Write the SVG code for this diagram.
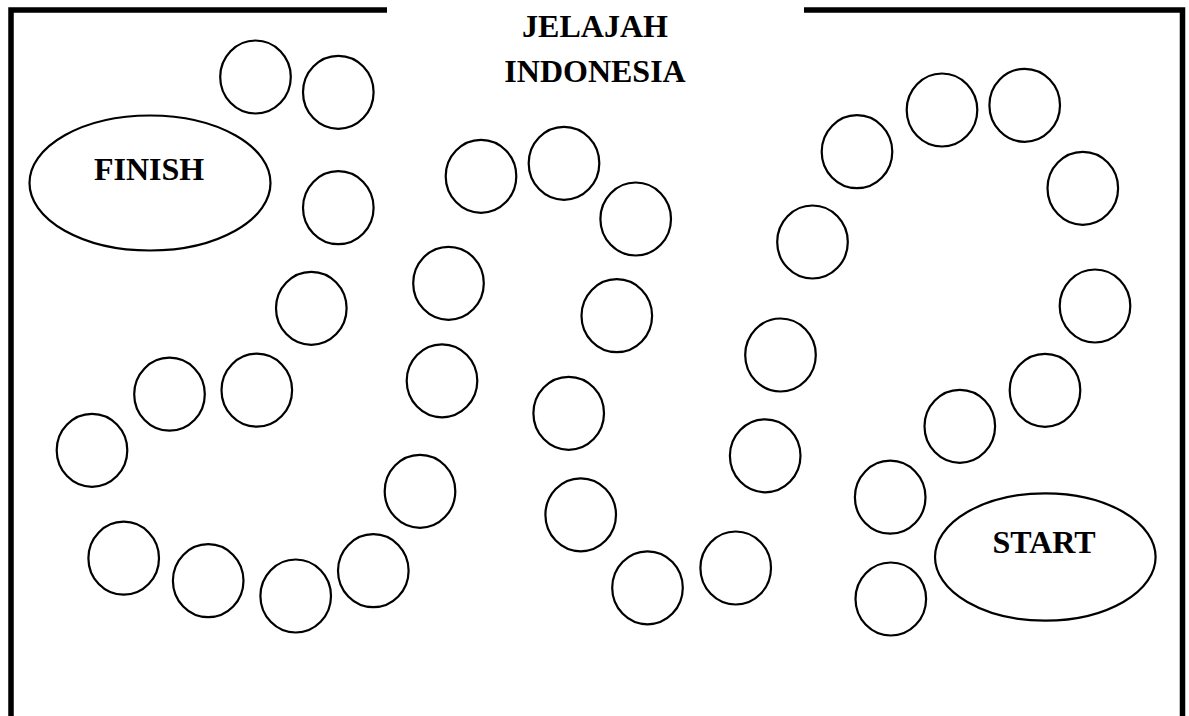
<svg xmlns="http://www.w3.org/2000/svg" width="1189" height="716" viewBox="0 0 1189 716">
  <style>
    .frame { fill: none; stroke: #000; stroke-width: 5.5; stroke-linejoin: miter; }
    .step { fill: #fff; stroke: #000; stroke-width: 2.2; }
    .goal { fill: #fff; stroke: #000; stroke-width: 2.2; }
    .label { font-family: "Liberation Serif", "Times New Roman", serif; font-weight: bold; font-size: 32px; fill: #000; text-anchor: middle; }
  </style>
  <rect width="1189" height="716" fill="#fff"/>

  <!-- board frame, open at the top for the title -->
  <g id="frame">
    <path class="frame" d="M11 716 V10 H387"/>
    <path class="frame" d="M804 10 H1182.5 V716"/>
  </g>

  <g id="title">
    <text class="label" x="595" y="37">JELAJAH</text>
    <text class="label" x="595" y="82">INDONESIA</text>
  </g>

  <g id="finish">
    <ellipse class="goal" cx="150" cy="183" rx="120.5" ry="67.5"/>
    <text class="label" x="149" y="180">FINISH</text>
  </g>

  <g id="start">
    <ellipse class="goal" cx="1045.3" cy="557" rx="110.3" ry="63.7"/>
    <text class="label" x="1044" y="553">START</text>
  </g>

  <!-- board squares along the path -->
  <g id="steps">
    <g id="s1"><ellipse class="step" cx="890.8" cy="599" rx="35.3" ry="36.5"/></g>
    <g id="s2"><ellipse class="step" cx="890.2" cy="497.2" rx="35.3" ry="36.5"/></g>
    <g id="s3"><ellipse class="step" cx="959.8" cy="426.3" rx="35.3" ry="36.5"/></g>
    <g id="s4"><ellipse class="step" cx="1045" cy="390.3" rx="35.3" ry="36.5"/></g>
    <g id="s5"><ellipse class="step" cx="1095" cy="306" rx="35.3" ry="36.5"/></g>
    <g id="s6"><ellipse class="step" cx="1082.8" cy="188.3" rx="35.3" ry="36.5"/></g>
    <g id="s7"><ellipse class="step" cx="1024.7" cy="105.3" rx="35.3" ry="36.5"/></g>
    <g id="s8"><ellipse class="step" cx="942" cy="110" rx="35.3" ry="36.5"/></g>
    <g id="s9"><ellipse class="step" cx="857" cy="151.7" rx="35.3" ry="36.5"/></g>
    <g id="s10"><ellipse class="step" cx="812.5" cy="242" rx="35.3" ry="36.5"/></g>
    <g id="s11"><ellipse class="step" cx="780.5" cy="355" rx="35.3" ry="36.5"/></g>
    <g id="s12"><ellipse class="step" cx="765.2" cy="455.8" rx="35.3" ry="36.5"/></g>
    <g id="s13"><ellipse class="step" cx="735.7" cy="568" rx="35.3" ry="36.5"/></g>
    <g id="s14"><ellipse class="step" cx="647.5" cy="587.8" rx="35.3" ry="36.5"/></g>
    <g id="s15"><ellipse class="step" cx="580.7" cy="514.8" rx="35.3" ry="36.5"/></g>
    <g id="s16"><ellipse class="step" cx="568.7" cy="413.3" rx="35.3" ry="36.5"/></g>
    <g id="s17"><ellipse class="step" cx="616.8" cy="315.7" rx="35.3" ry="36.5"/></g>
    <g id="s18"><ellipse class="step" cx="635.7" cy="219" rx="35.3" ry="36.5"/></g>
    <g id="s19"><ellipse class="step" cx="564" cy="163.3" rx="35.3" ry="36.5"/></g>
    <g id="s20"><ellipse class="step" cx="481" cy="176.3" rx="35.3" ry="36.5"/></g>
    <g id="s21"><ellipse class="step" cx="448.5" cy="283.3" rx="35.3" ry="36.5"/></g>
    <g id="s22"><ellipse class="step" cx="442" cy="380.8" rx="35.3" ry="36.5"/></g>
    <g id="s23"><ellipse class="step" cx="420" cy="491.3" rx="35.3" ry="36.5"/></g>
    <g id="s24"><ellipse class="step" cx="373.3" cy="570.7" rx="35.3" ry="36.5"/></g>
    <g id="s25"><ellipse class="step" cx="295.7" cy="596" rx="35.3" ry="36.5"/></g>
    <g id="s26"><ellipse class="step" cx="208.2" cy="580.7" rx="35.3" ry="36.5"/></g>
    <g id="s27"><ellipse class="step" cx="123.7" cy="558.2" rx="35.3" ry="36.5"/></g>
    <g id="s28"><ellipse class="step" cx="92" cy="450.3" rx="35.3" ry="36.5"/></g>
    <g id="s29"><ellipse class="step" cx="169.5" cy="394.2" rx="35.3" ry="36.5"/></g>
    <g id="s30"><ellipse class="step" cx="256.8" cy="390.2" rx="35.3" ry="36.5"/></g>
    <g id="s31"><ellipse class="step" cx="311.3" cy="308.3" rx="35.3" ry="36.5"/></g>
    <g id="s32"><ellipse class="step" cx="338.3" cy="207.7" rx="35.3" ry="36.5"/></g>
    <g id="s33"><ellipse class="step" cx="338.3" cy="92.3" rx="35.3" ry="36.5"/></g>
    <g id="s34"><ellipse class="step" cx="255.5" cy="77" rx="35.3" ry="36.5"/></g>
  </g>

  <g id="connectors"/>
</svg>
